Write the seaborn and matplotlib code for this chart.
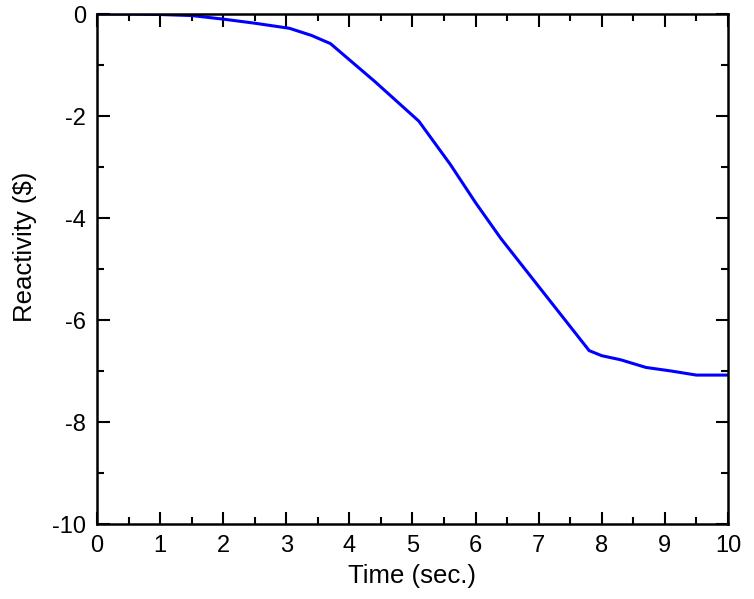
import matplotlib
matplotlib.use('Agg')
import matplotlib.pyplot as plt
import seaborn as sns
import pandas as pd
from matplotlib.ticker import MultipleLocator

# reactivity curve
time_s = [0.0, 0.5, 1.0, 1.5, 2.0, 2.5, 3.05, 3.4, 3.7, 4.4, 5.1, 5.6, 6.0, 6.4, 7.1, 7.8, 8.0, 8.3, 8.7, 9.1, 9.5, 10.0]
reactivity = [0.0, 0.0, -0.01, -0.03, -0.1, -0.18, -0.28, -0.42, -0.58, -1.32, -2.1, -2.95, -3.7, -4.4, -5.5, -6.6, -6.7, -6.78, -6.93, -7.0, -7.08, -7.08]

df = pd.DataFrame({'Time': time_s, 'Reactivity': reactivity})

sns.set_style('white')
plt.rcParams['font.family'] = ['Liberation Sans', 'DejaVu Sans']
plt.rcParams['axes.unicode_minus'] = False
plt.rcParams['text.color'] = 'black'
plt.rcParams['axes.labelcolor'] = 'black'

fig = plt.figure(figsize=(7.54, 5.99), dpi=100)
ax = fig.add_axes([0.1286, 0.1252, 0.8369, 0.8514])

sns.lineplot(data=df, x='Time', y='Reactivity', ax=ax, color='#0000ff', linewidth=2.2)

ax.set_xlim(0, 10)
ax.set_ylim(-10, 0)
ax.xaxis.set_major_locator(MultipleLocator(1))
ax.xaxis.set_minor_locator(MultipleLocator(0.5))
ax.yaxis.set_major_locator(MultipleLocator(2))
ax.yaxis.set_minor_locator(MultipleLocator(1))
ax.tick_params(which='both', direction='in', top=True, right=True, bottom=True, left=True,
               width=1.5, colors='black')
ax.tick_params(which='major', length=9, labelsize=17, pad=8)
ax.tick_params(which='minor', length=5)
for s in ax.spines.values():
    s.set_linewidth(1.8)
    s.set_color('black')

ax.set_xlabel('Time (sec.)', fontsize=18.5, labelpad=5)
ax.set_ylabel('Reactivity ($)', fontsize=18.5)
ax.yaxis.set_label_coords(-0.095, 0.543)

fig.savefig('out.png', dpi=100)
